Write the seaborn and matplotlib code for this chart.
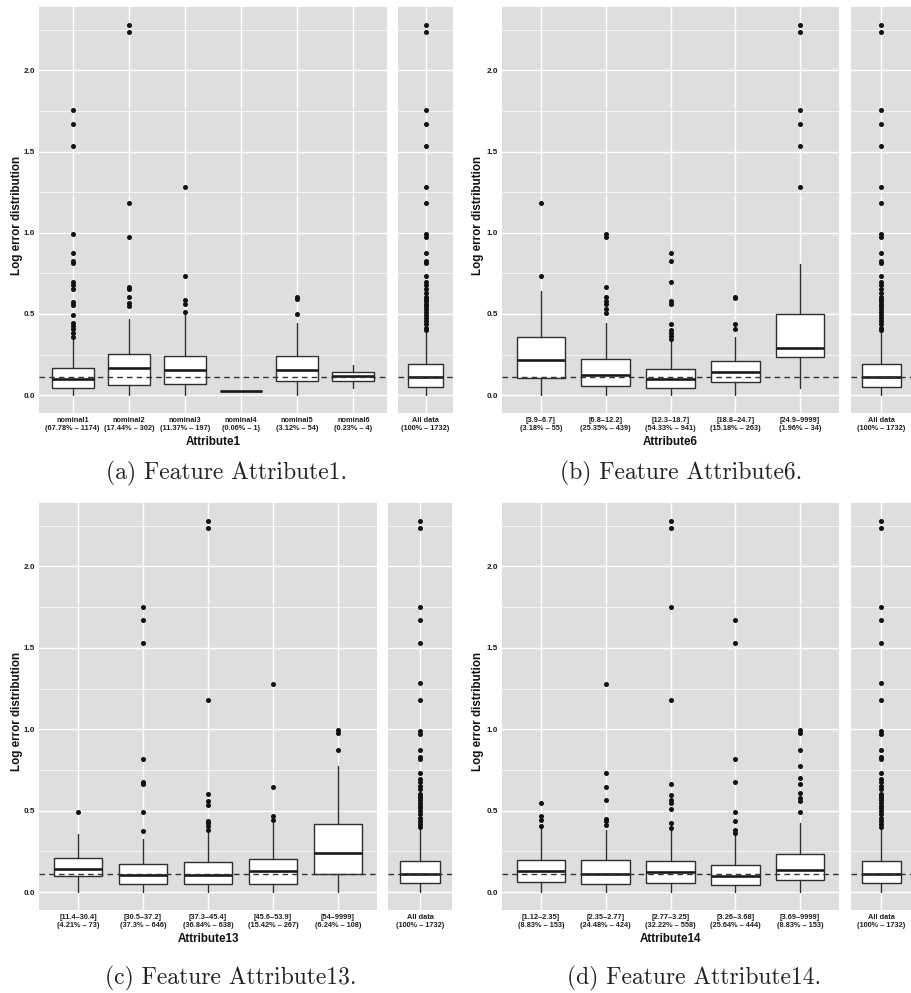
import matplotlib
matplotlib.use("Agg")
import matplotlib.pyplot as plt
import seaborn as sns
import pandas as pd
import numpy as np

# ---------------- data ----------------
ALL_LABEL = "All data\n(100% – 1732)"
ALL_Q1, ALL_MED, ALL_Q3, ALL_WLO, ALL_WHI = 0.053, 0.113, 0.189, 0.0, 0.39
ALL_OUT = [0.40, 0.416, 0.436, 0.457, 0.477, 0.496, 0.514, 0.529, 0.549, 0.564,
           0.58, 0.59, 0.604, 0.631, 0.652, 0.676, 0.697, 0.734, 0.816, 0.828,
           0.873, 0.973, 0.99, 1.182, 1.283, 1.533, 1.672, 1.754, 2.236, 2.281]
REF_LINE = 0.113

A1_LABELS = ["nominal1\n(67.78% – 1174)", "nominal2\n(17.44% – 302)", "nominal3\n(11.37% – 197)",
             "nominal4\n(0.06% – 1)", "nominal5\n(3.12% – 54)", "nominal6\n(0.23% – 4)"]
A1_Q1 = [0.047, 0.064, 0.066, 0.027, 0.088, 0.088]
A1_MED = [0.102, 0.166, 0.152, 0.027, 0.156, 0.119]
A1_Q3 = [0.168, 0.254, 0.244, 0.027, 0.242, 0.143]
A1_WLO = [0.0, 0.0, 0.0, 0.027, 0.0, 0.047]
A1_WHI = [0.34, 0.467, 0.498, 0.027, 0.447, 0.186]
A1_OUT = [[0.355, 0.385, 0.405, 0.426, 0.447, 0.496, 0.553, 0.576, 0.652, 0.676, 0.697,
           0.816, 0.826, 0.873, 0.99, 1.533, 1.672, 1.754],
          [0.549, 0.566, 0.604, 0.652, 0.668, 0.973, 1.182, 2.236, 2.281],
          [0.514, 0.564, 0.584, 0.734, 1.283],
          [],
          [0.498, 0.59, 0.604],
          []]

A6_LABELS = ["[3.9–6.7]\n(3.18% – 55)", "[6.8–12.2]\n(25.35% – 439)", "[12.3–18.7]\n(54.33% – 941)",
             "[18.8–24.7]\n(15.18% – 263)", "[24.9–9999]\n(1.96% – 34)"]
A6_Q1 = [0.105, 0.057, 0.043, 0.082, 0.232]
A6_MED = [0.217, 0.123, 0.098, 0.145, 0.293]
A6_Q3 = [0.355, 0.223, 0.164, 0.211, 0.498]
A6_WLO = [0.0, 0.0, 0.0, 0.0, 0.041]
A6_WHI = [0.639, 0.447, 0.34, 0.359, 0.809]
A6_OUT = [[0.734, 1.182],
          [0.508, 0.529, 0.564, 0.58, 0.604, 0.668, 0.973, 0.99],
          [0.344, 0.365, 0.385, 0.40, 0.436, 0.559, 0.58, 0.697, 0.828, 0.873],
          [0.406, 0.436, 0.596, 0.607],
          [1.283, 1.533, 1.672, 1.754, 2.236, 2.281]]

A13_LABELS = ["[11.4–30.4]\n(4.21% – 73)", "[30.5–37.2]\n(37.3% – 646)", "[37.3–45.4]\n(36.84% – 638)",
              "[45.6–53.9]\n(15.42% – 267)", "[54–9999]\n(6.24% – 108)"]
A13_Q1 = [0.096, 0.049, 0.051, 0.051, 0.111]
A13_MED = [0.143, 0.106, 0.102, 0.131, 0.24]
A13_Q3 = [0.209, 0.172, 0.182, 0.205, 0.416]
A13_WLO = [0.0, 0.0, 0.0, 0.0, 0.0]
A13_WHI = [0.356, 0.328, 0.38, 0.424, 0.772]
A13_OUT = [[0.495],
           [0.377, 0.495, 0.665, 0.676, 0.815, 1.529, 1.672, 1.754],
           [0.383, 0.403, 0.424, 0.434, 0.536, 0.557, 0.602, 1.181, 2.235, 2.278],
           [0.444, 0.465, 0.643, 1.279],
           [0.874, 0.976, 0.997]]

A14_LABELS = ["[1.12–2.35]\n(8.83% – 153)", "[2.35–2.77]\n(24.48% – 424)", "[2.77–3.25]\n(32.22% – 558)",
              "[3.26–3.68]\n(25.64% – 444)", "[3.69–9999]\n(8.83% – 153)"]
A14_Q1 = [0.059, 0.051, 0.055, 0.045, 0.072]
A14_MED = [0.131, 0.11, 0.121, 0.096, 0.137]
A14_Q3 = [0.199, 0.199, 0.192, 0.168, 0.235]
A14_WLO = [0.0, 0.0, 0.0, 0.0, 0.0]
A14_WHI = [0.40, 0.38, 0.385, 0.352, 0.424]
A14_OUT = [[0.407, 0.444, 0.465, 0.547],
           [0.413, 0.434, 0.448, 0.567, 0.643, 0.733, 1.279],
           [0.393, 0.424, 0.51, 0.547, 0.567, 0.598, 0.663, 1.181, 1.754, 2.235, 2.278],
           [0.362, 0.383, 0.434, 0.495, 0.676, 0.815, 1.529, 1.672],
           [0.495, 0.557, 0.577, 0.608, 0.663, 0.698, 0.774, 0.874, 0.976, 0.997]]

# ---------------- styling ----------------
sns.set_theme(style="darkgrid", rc={"axes.facecolor": "#DDDFDF", "grid.color": "white",
                                    "axes.edgecolor": "none"})
plt.rcParams["font.family"] = ["Liberation Sans", "DejaVu Sans"]

W, H = 912, 993
fig = plt.figure(figsize=(W / 100, H / 100), dpi=100)
fig.patch.set_facecolor("white")

YLIM = (-0.11, 2.39)
EDGE = "#2e2e2e"


def px_axes(x0, y0, x1, y1):
    return fig.add_axes([x0 / W, 1 - y1 / H, (x1 - x0) / W, (y1 - y0) / H])


def style_axes(ax, n, show_y):
    ax.set_xlim(-0.6, n - 1 + 0.6)
    ax.set_ylim(*YLIM)
    ax.set_yticks([0, 0.5, 1.0, 1.5, 2.0])
    ax.set_yticks([0.25, 0.75, 1.25, 1.75, 2.25], minor=True)
    ax.set_xticks(range(n))
    ax.grid(which="major", axis="both", color="white", lw=1.0)
    ax.grid(which="minor", axis="y", color="white", lw=0.5)
    ax.grid(which="minor", axis="x", visible=False)
    ax.set_axisbelow(True)
    ax.tick_params(axis="x", which="major", length=1.6, width=0.6, color=EDGE, pad=1.5,
                   labelsize=5.3, labelcolor="#1e1e1e")
    ax.tick_params(which="minor", length=0)
    if show_y:
        ax.set_yticklabels(["0.0", "0.5", "1.0", "1.5", "2.0"])
        ax.tick_params(axis="y", which="major", length=1.6, width=0.6, color=EDGE, pad=1.5,
                       labelsize=5.9, labelcolor="#1e1e1e")
    else:
        ax.tick_params(axis="y", which="major", length=0, labelleft=False)
    for lab in ax.get_xticklabels() + ax.get_yticklabels():
        lab.set_fontweight("bold")
    for s in ax.spines.values():
        s.set_visible(False)


def draw_boxes(ax, labels, q1, med, q3, wlo, whi, outs):
    n = len(labels)
    stats = []
    for i in range(n):
        stats.append(dict(med=med[i], q1=q1[i], q3=q3[i], whislo=wlo[i], whishi=whi[i],
                          fliers=[], label=labels[i]))
    ax.bxp(stats, positions=list(range(n)), widths=0.75, patch_artist=True,
           showcaps=False, showfliers=False,
           boxprops=dict(facecolor="white", edgecolor=EDGE, lw=1.0),
           medianprops=dict(color="#1a1a1a", lw=1.9, solid_capstyle="butt"),
           whiskerprops=dict(color=EDGE, lw=1.0))
    xs, ys = [], []
    for i, o in enumerate(outs):
        xs += [i] * len(o)
        ys += list(o)
    if xs:
        df = pd.DataFrame({"pos": xs, "val": ys})
        sns.scatterplot(data=df, x="pos", y="val", ax=ax, color="#111111", s=13,
                        linewidth=0, zorder=4, legend=False)
    ax.axhline(REF_LINE, color="#333333", lw=1.0, ls=(0, (4, 3)), zorder=5)
    style_axes(ax, n, True)
    ax.set_xticklabels(labels)
    for lab in ax.get_xticklabels():
        lab.set_fontweight("bold")
    ax.set_xlabel("")
    ax.set_ylabel("")


def draw_all(ax):
    stats = [dict(med=ALL_MED, q1=ALL_Q1, q3=ALL_Q3, whislo=ALL_WLO, whishi=ALL_WHI,
                  fliers=[], label=ALL_LABEL)]
    ax.bxp(stats, positions=[0], widths=0.75, patch_artist=True, showcaps=False,
           showfliers=False,
           boxprops=dict(facecolor="white", edgecolor=EDGE, lw=1.0),
           medianprops=dict(color="#1a1a1a", lw=1.9, solid_capstyle="butt"),
           whiskerprops=dict(color=EDGE, lw=1.0))
    df = pd.DataFrame({"pos": [0] * len(ALL_OUT), "val": ALL_OUT})
    sns.scatterplot(data=df, x="pos", y="val", ax=ax, color="#111111", s=13,
                    linewidth=0, zorder=4, legend=False)
    ax.axhline(REF_LINE, color="#333333", lw=1.0, ls=(0, (4, 3)), zorder=5)
    style_axes(ax, 1, False)
    ax.set_xticklabels([ALL_LABEL])
    for lab in ax.get_xticklabels():
        lab.set_fontweight("bold")
    ax.set_xlabel("")
    ax.set_ylabel("")


panels = [
    # main box, all box, data, xlabel, caption, caption pos, ylabel x
    ((39, 7, 387, 413), (398, 7, 453, 413),
     (A1_LABELS, A1_Q1, A1_MED, A1_Q3, A1_WLO, A1_WHI, A1_OUT),
     "Attribute1", "(a) Feature Attribute1.", (227, 473), 17),
    ((502, 7, 839, 413), (851, 7, 912, 413),
     (A6_LABELS, A6_Q1, A6_MED, A6_Q3, A6_WLO, A6_WHI, A6_OUT),
     "Attribute6", "(b) Feature Attribute6.", (681, 473), 478),
    ((39, 503, 377, 910), (388, 503, 452, 910),
     (A13_LABELS, A13_Q1, A13_MED, A13_Q3, A13_WLO, A13_WHI, A13_OUT),
     "Attribute13", "(c) Feature Attribute13.", (231, 978), 17),
    ((502, 503, 839, 910), (851, 503, 912, 910),
     (A14_LABELS, A14_Q1, A14_MED, A14_Q3, A14_WLO, A14_WHI, A14_OUT),
     "Attribute14", "(d) Feature Attribute14.", (694, 978), 478),
]

for mbox, abox, data, xlabel, caption, cpos, ylx in panels:
    axm = px_axes(*mbox)
    axa = px_axes(*abox)
    draw_boxes(axm, *data)
    draw_all(axa)
    # axis titles
    xc = (mbox[0] + mbox[2]) / 2
    fig.text(xc / W, 1 - (mbox[3] + 29) / H, xlabel, ha="center", va="center",
             fontsize=8.4, fontweight="bold", color="#111111")
    yc = (mbox[1] + mbox[3]) / 2 + 5
    fig.text(ylx / W, 1 - yc / H, "Log error distribution", ha="center", va="center",
             rotation=90, fontsize=8.4, fontweight="bold", color="#111111")
    fig.text(cpos[0] / W, 1 - cpos[1] / H, caption, ha="center", va="center",
             fontsize=17, family=["cmr10", "DejaVu Serif"], color="#222222")

fig.savefig("out.png", dpi=100, facecolor="white")
